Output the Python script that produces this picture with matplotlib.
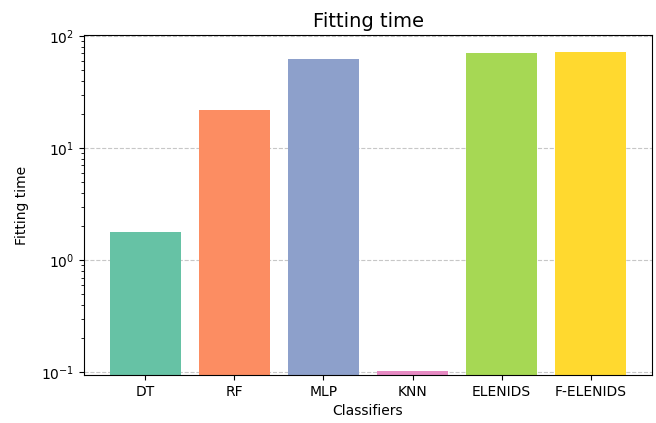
import matplotlib
matplotlib.use("Agg")
import matplotlib.pyplot as plt

classifiers = ['DT', 'RF', 'MLP', 'KNN', 'ELENIDS', 'F-ELENIDS']
fit_times = [1.78, 21.8, 62.0, 0.102, 71.0, 72.5]
colors = ['#66c2a5', '#fc8d62', '#8da0cb', '#e78ac3', '#a6d854', '#ffd92f']

fig, ax = plt.subplots(figsize=(6.56, 4.23), dpi=100)
ax.bar(classifiers, fit_times, color=colors)
ax.set_yscale('log')
ax.set_ylim(0.094, 102)
ax.set_title('Fitting time', fontsize=14)
ax.set_xlabel('Classifiers')
ax.set_ylabel('Fitting time', labelpad=9)
ax.grid(axis='y', linestyle='--', alpha=0.7)
ax.set_axisbelow(True)
fig.subplots_adjust(left=0.128, right=0.994, top=0.917, bottom=0.113)
fig.savefig('out.png')
